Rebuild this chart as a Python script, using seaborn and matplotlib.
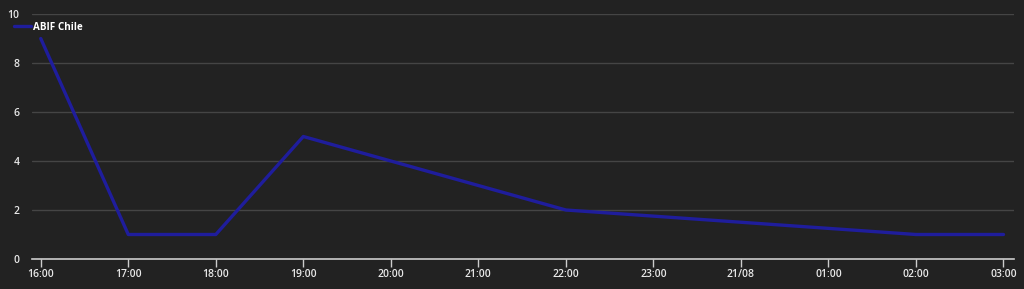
import matplotlib
matplotlib.use("Agg")
import matplotlib.pyplot as plt
import seaborn as sns
import pandas as pd

hours = [0, 1, 2, 3, 4, 5, 6, 7, 8, 9, 10, 11]
tick_labels = ["16:00", "17:00", "18:00", "19:00", "20:00", "21:00", "22:00",
               "23:00", "21/08", "01:00", "02:00", "03:00"]
values = [9, 1, 1, 5, 4, 3, 2, 1.75, 1.5, 1.25, 1, 1]
series_name = "ABIF Chile"

df = pd.DataFrame({"hour": hours, "value": values, "series": series_name})

sns.set_theme(style="dark")
plt.rcParams['font.family'] = ['Open Sans', 'DejaVu Sans']

bg = "#222222"
fig = plt.figure(figsize=(10.24, 2.89), dpi=100, facecolor=bg)
ax = fig.add_axes([32/1024, 30/289, (1014-32)/1024, (259-14)/289])
ax.set_facecolor(bg)

sns.lineplot(data=df, x="hour", y="value", hue="series", palette=["#1f1d9c"],
             linewidth=2.4, ax=ax)

ax.set_ylim(0, 10)
ax.set_xlim(-0.1, 11.12)
ax.set_yticks([0, 2, 4, 6, 8, 10])
ax.set_yticklabels(["0", "2", "4", "6", "8", "10"])
ax.set_xticks(hours)
ax.set_xticklabels(tick_labels)
ax.grid(axis="y", color="#454545", linewidth=1)
ax.grid(axis="x", visible=False)
ax.set_axisbelow(True)

for s in ["top", "right", "left"]:
    ax.spines[s].set_visible(False)
ax.spines["bottom"].set_color("#cccccc")
ax.spines["bottom"].set_linewidth(1.2)

ax.tick_params(axis="y", length=0, pad=9, labelcolor="#e8e8e8", labelsize=7.5)
ax.tick_params(axis="x", length=6, width=1, color="#cccccc", pad=1,
               labelcolor="#e8e8e8", labelsize=7.5, direction="out", bottom=True)
for lab in ax.get_xticklabels() + ax.get_yticklabels():
    lab.set_fontweight("semibold")

ax.set_xlabel("")
ax.set_ylabel("")

leg = ax.legend(loc="upper left", bbox_to_anchor=(-0.0225, 0.985), frameon=False,
                handlelength=1.75, handletextpad=0.2, borderaxespad=0,
                prop={"weight": "bold", "size": 7.1})
for t in leg.get_texts():
    t.set_color("white")

fig.savefig("out.png", dpi=100, facecolor=bg)
